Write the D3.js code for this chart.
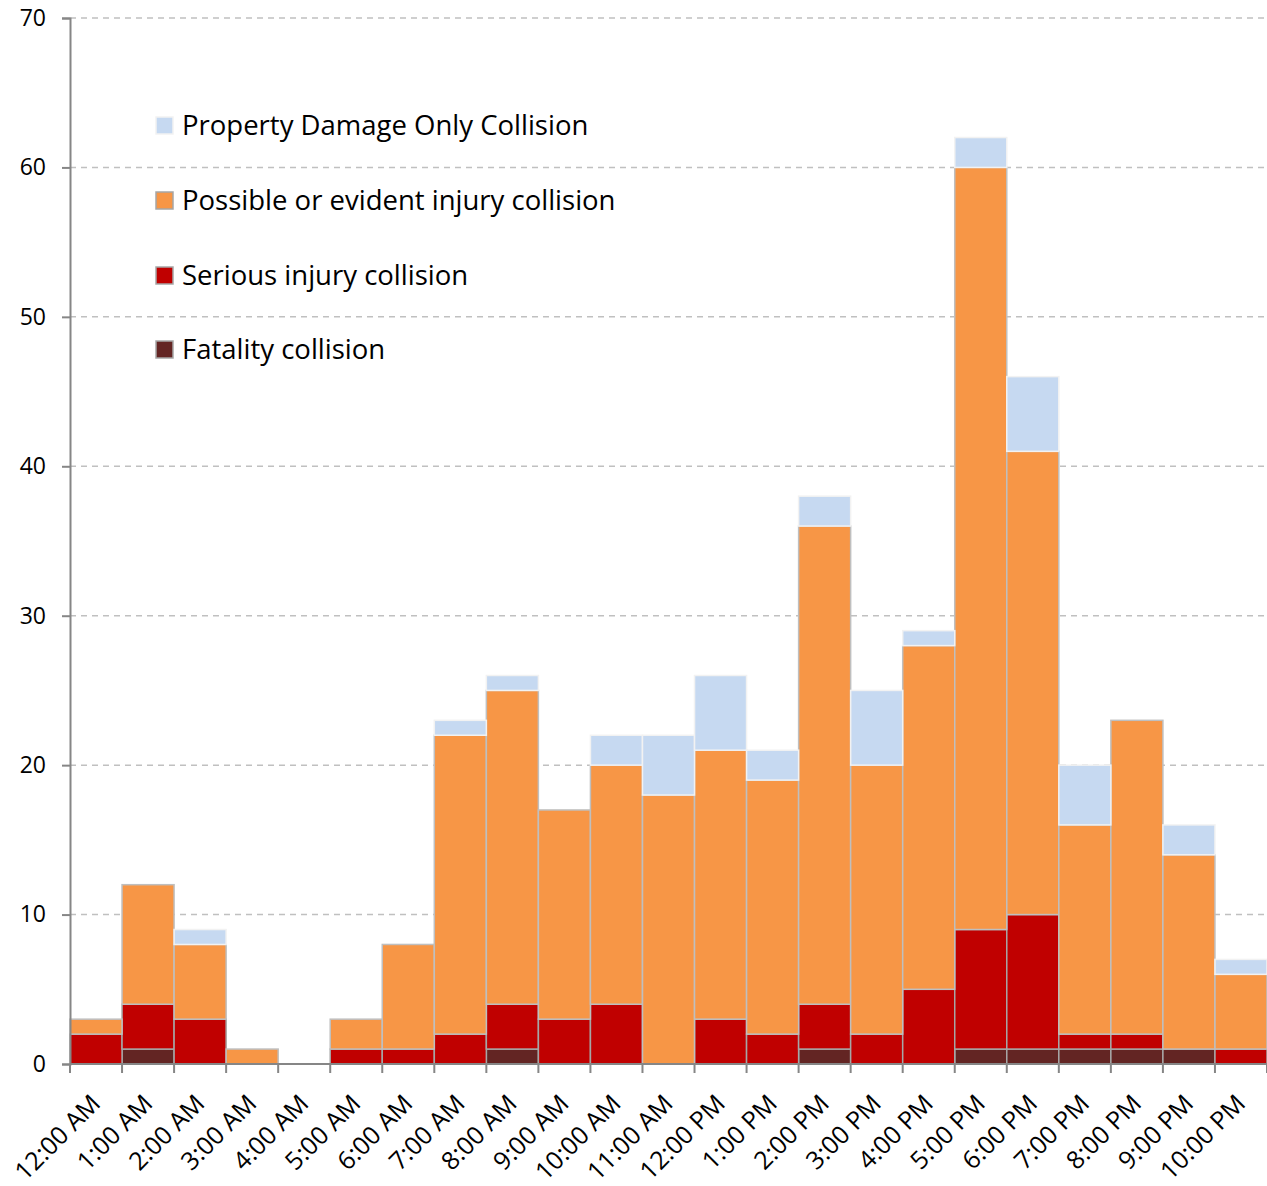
<!DOCTYPE html>
<html>
<head>
<meta charset="utf-8">
<script src="https://cdn.jsdelivr.net/npm/d3@7"></script>
<style>
  body { margin: 0; background: #fff; }
  svg text { font-family: "Open Sans", sans-serif; fill: #000; }
</style>
</head>
<body>
<div id="chart"></div>
<script>
const hours = ["12:00 AM","1:00 AM","2:00 AM","3:00 AM","4:00 AM","5:00 AM","6:00 AM","7:00 AM",
  "8:00 AM","9:00 AM","10:00 AM","11:00 AM","12:00 PM","1:00 PM","2:00 PM","3:00 PM","4:00 PM",
  "5:00 PM","6:00 PM","7:00 PM","8:00 PM","9:00 PM","10:00 PM"];

const fatality = [0,1,0,0,0,0,0,0,1,0,0,0,0,0,1,0,0,1,1,1,1,1,0];
const serious  = [2,3,3,0,0,1,1,2,3,3,4,0,3,2,3,2,5,8,9,1,1,0,1];
const possible = [1,8,5,1,0,2,7,20,21,14,16,18,18,17,32,18,23,51,31,14,21,13,5];
const property = [0,0,1,0,0,0,0,1,1,0,2,4,5,2,2,5,1,2,5,4,0,2,1];

const yTicks = [0,10,20,30,40,50,60,70];

const seriesNames = ["Fatality collision","Serious injury collision",
  "Possible or evident injury collision","Property Damage Only Collision"];
const seriesValues = [fatality, serious, possible, property];
const colors = ["#632523","#c00000","#f79646","#c6d9f1"];
const strokes = ["#a6a6a6","#a6a6a6","#bfbfbf","#f2f2f2"];

const W = 1267, H = 1186;
const margin = { top: 18, right: 0, bottom: 122, left: 70 };
const width = W - margin.left - margin.right;
const height = H - margin.top - margin.bottom;

const svg = d3.select("#chart").append("svg")
  .attr("width", W).attr("height", H)
  .append("g")
  .attr("transform", `translate(${margin.left},${margin.top})`);

const x = d3.scaleBand().domain(hours).range([0, width]).padding(0);
const y = d3.scaleLinear().domain([0, 70]).range([height, 0]);

// gridlines
svg.append("g").selectAll("line")
  .data(yTicks.filter(d => d > 0))
  .enter().append("line")
  .attr("x1", 0).attr("x2", width)
  .attr("y1", d => y(d)).attr("y2", d => y(d))
  .attr("stroke", "#c0c0c0")
  .attr("stroke-width", 1.5)
  .attr("stroke-dasharray", "6,5");

// stacked data
const table = hours.map((h, i) => {
  const row = { hour: h };
  seriesNames.forEach((s, k) => row[s] = seriesValues[k][i]);
  return row;
});
const stacked = d3.stack().keys(seriesNames)(table);

svg.selectAll(".layer")
  .data(stacked)
  .enter().append("g")
  .attr("class", "layer")
  .attr("fill", (d, i) => colors[i])
  .attr("stroke", (d, i) => strokes[i])
  .selectAll("rect")
  .data(d => d.filter(p => p[1] - p[0] > 0))
  .enter().append("rect")
  .attr("x", d => x(d.data.hour))
  .attr("width", x.bandwidth())
  .attr("y", d => y(d[1]))
  .attr("height", d => y(d[0]) - y(d[1]))
  .attr("stroke-width", 1.5);

// y axis
const yAxis = svg.append("g")
  .call(d3.axisLeft(y).tickValues(yTicks).tickSize(8).tickPadding(16));
yAxis.select(".domain").attr("stroke", "#868686").attr("stroke-width", 2);
yAxis.selectAll(".tick line").attr("stroke", "#868686").attr("stroke-width", 2);
yAxis.selectAll("text").style("font-size", "23px");

// x axis with ticks at band boundaries
const xAxis = svg.append("g").attr("transform", `translate(0,${height})`);
xAxis.append("line")
  .attr("x1", 0).attr("x2", width)
  .attr("stroke", "#868686").attr("stroke-width", 2);
xAxis.selectAll(".xt")
  .data(hours.concat(["end"]))
  .enter().append("line")
  .attr("x1", (d, i) => i * x.bandwidth()).attr("x2", (d, i) => i * x.bandwidth())
  .attr("y1", 0).attr("y2", 9)
  .attr("stroke", "#868686").attr("stroke-width", 2);
xAxis.selectAll(".xl")
  .data(hours)
  .enter().append("text")
  .attr("transform", d => `translate(${x(d) + x.bandwidth() / 2 + 6},${41}) rotate(-45)`)
  .attr("text-anchor", "end")
  .style("font-size", "25px")
  .text(d => d);

// legend
const legendOrder = [3, 2, 1, 0];
const legendY = [125, 200, 275, 349];
const legend = svg.append("g");
legendOrder.forEach((k, i) => {
  const g = legend.append("g").attr("transform", `translate(${156 - margin.left},${legendY[i] - margin.top})`);
  g.append("rect")
    .attr("x", 0).attr("y", -8).attr("width", 17).attr("height", 17)
    .attr("fill", colors[k])
    .attr("stroke", k === 3 ? "#f2f2f2" : "#a6a6a6")
    .attr("stroke-width", 1.5);
  g.append("text")
    .attr("x", 26).attr("y", 0).attr("dy", "0.35em")
    .style("font-size", "27.5px")
    .text(seriesNames[k]);
});
</script>
</body>
</html>
